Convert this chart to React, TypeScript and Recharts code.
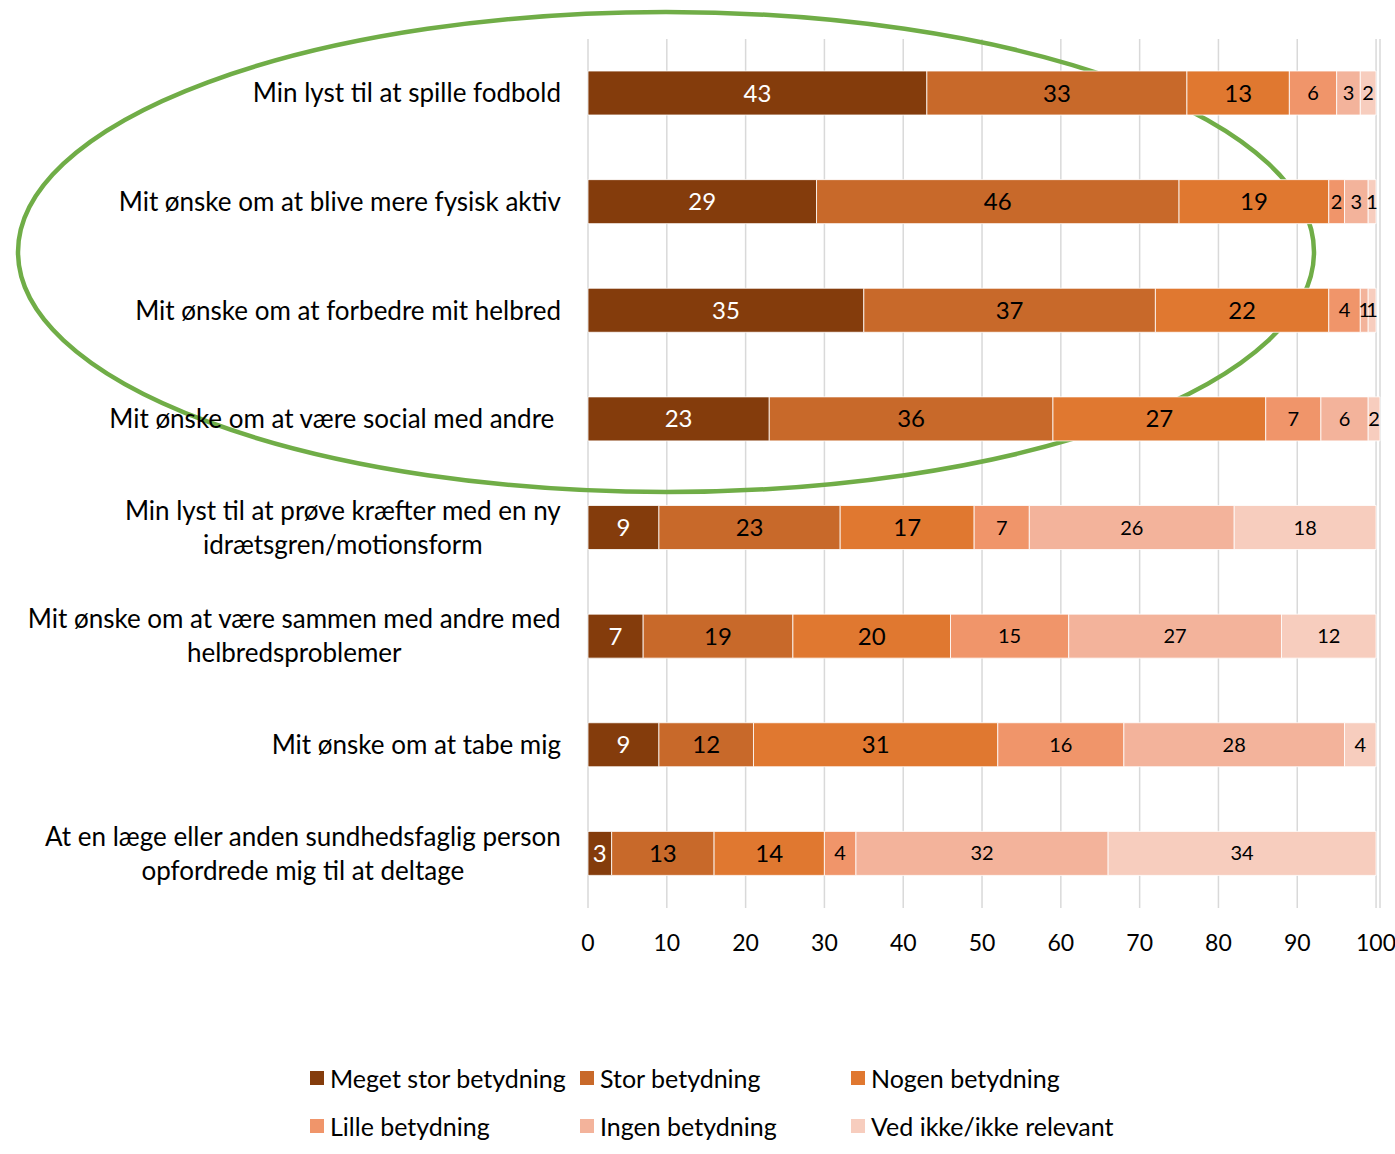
import React from "react";
import {
  BarChart,
  Bar,
  XAxis,
  YAxis,
  CartesianGrid,
  LabelList,
  Customized,
} from "recharts";

const FONT = "Lato, 'Noto Sans', sans-serif";

const categories = [
  "Min lyst til at spille fodbold",
  "Mit ønske om at blive mere fysisk aktiv",
  "Mit ønske om at forbedre mit helbred",
  "Mit ønske om at være social med andre ",
  "Min lyst til at prøve kræfter med en ny\nidrætsgren/motionsform",
  "Mit ønske om at være sammen med andre med\nhelbredsproblemer",
  "Mit ønske om at tabe mig",
  "At en læge eller anden sundhedsfaglig person\nopfordrede mig til at deltage",
];

const megetStor = [43, 29, 35, 23, 9, 7, 9, 3];
const stor = [33, 46, 37, 36, 23, 19, 12, 13];
const nogen = [13, 19, 22, 27, 17, 20, 31, 14];
const lille = [6, 2, 4, 7, 7, 15, 16, 4];
const ingen = [3, 3, 1, 6, 26, 27, 28, 32];
const vedIkke = [2, 1, 1, 1.5, 18, 12, 4, 34];

const xTicks = [0, 10, 20, 30, 40, 50, 60, 70, 80, 90, 100];

const series = [
  { key: "megetStor", name: "Meget stor betydning", color: "#843C0C", values: megetStor, label: "#fff", size: 24 },
  { key: "stor", name: "Stor betydning", color: "#C8692A", values: stor, label: "#000", size: 24 },
  { key: "nogen", name: "Nogen betydning", color: "#E07830", values: nogen, label: "#000", size: 24 },
  { key: "lille", name: "Lille betydning", color: "#F0956A", values: lille, label: "#000", size: 20 },
  { key: "ingen", name: "Ingen betydning", color: "#F3B39B", values: ingen, label: "#000", size: 20 },
  { key: "vedIkke", name: "Ved ikke/ikke relevant", color: "#F7CDBE", values: vedIkke, label: "#000", size: 20 },
];

const data = categories.map((name, i) => {
  const row: Record<string, string | number> = { name };
  series.forEach((s) => (row[s.key] = s.values[i]));
  return row;
});

let ctx: CanvasRenderingContext2D | null = null;
function textWidth(text: string, font: string) {
  if (!ctx) ctx = document.createElement("canvas").getContext("2d");
  if (!ctx) return text.length * 12;
  ctx.font = font;
  return ctx.measureText(text).width;
}

const CAT_SIZE = 26;

function CategoryTick({ x, y, payload }: any) {
  const lines = String(payload.value).split("\n");
  const right = x - 27;
  if (lines.length === 1) {
    return (
      <text x={right} y={y} dy={9} textAnchor="end" fontSize={CAT_SIZE} fontFamily={FONT} fill="#000" style={{ whiteSpace: "pre" }}>
        {lines[0]}
      </text>
    );
  }
  const w = Math.max(...lines.map((l) => textWidth(l, `${CAT_SIZE}px ${FONT}`)));
  const cx = right - w / 2;
  return (
    <text textAnchor="middle" fontSize={CAT_SIZE} fontFamily={FONT} fill="#000">
      {lines.map((l, i) => (
        <tspan key={i} x={cx} y={y + 9 + (i - (lines.length - 1) / 2) * 34}>
          {l}
        </tspan>
      ))}
    </text>
  );
}

function ValueTick({ x, y, payload }: any) {
  return (
    <text x={x} y={y + 43} textAnchor="middle" fontSize={23} fontFamily={FONT} fill="#000">
      {payload.value}
    </text>
  );
}

const Ring = () => (
  <ellipse cx={666} cy={252} rx={648} ry={240} fill="none" stroke="#70AD47" strokeWidth={4.5} />
);

export default function App() {
  return (
    <div style={{ position: "absolute", left: 0, top: 0, width: 1395, height: 1154, background: "#fff" }}>
      <BarChart
        width={1395}
        height={1154}
        data={data}
        layout="vertical"
        margin={{ top: 39, right: 15, bottom: 186, left: 0 }}
        barSize={44}
      >
        <CartesianGrid horizontal={false} stroke="#d9d9d9" strokeWidth={1.5} />
        <XAxis
          type="number"
          domain={[0, 100.5]}
          ticks={xTicks}
          axisLine={false}
          tickLine={false}
          tickSize={0}
          tickMargin={0}
          height={60}
          tick={<ValueTick />}
        />
        <YAxis
          type="category"
          dataKey="name"
          width={588}
          axisLine={false}
          tickLine={false}
          tickSize={0}
          tickMargin={0}
          interval={0}
          tick={<CategoryTick />}
        />
        {series.map((s) => (
          <Bar key={s.key} dataKey={s.key} name={s.name} stackId="a" fill={s.color} stroke="#fff" strokeWidth={0.8} isAnimationActive={false}>
            <LabelList
              dataKey={s.key}
              position="center"
              formatter={(v: any) => Math.round(Number(v))}
              fill={s.label}
              fontSize={s.size}
              fontFamily={FONT}
            />
          </Bar>
        ))}
        <Customized component={Ring} />
      </BarChart>
      {series.map((s, i) => {
        const col = [310, 580, 851][i % 3];
        const row = [1078, 1126][Math.floor(i / 3)];
        return (
          <div
            key={s.key}
            style={{
              position: "absolute",
              left: col,
              top: row - 15,
              height: 30,
              display: "flex",
              alignItems: "center",
              fontFamily: FONT,
              fontSize: 25,
              color: "#000",
              whiteSpace: "nowrap",
            }}
          >
            <span style={{ display: "inline-block", width: 14, height: 14, background: s.color, marginRight: 6 }} />
            {s.name}
          </div>
        );
      })}
    </div>
  );
}
